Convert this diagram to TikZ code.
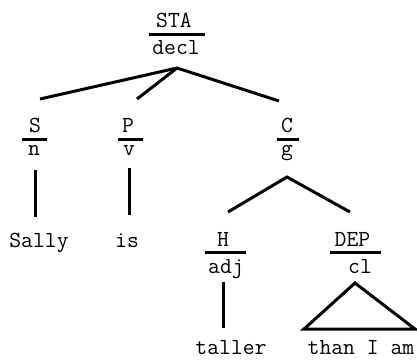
\documentclass[tikz,border=0pt]{standalone}
\begin{document}
\begin{tikzpicture}[x=1pt,y=-1pt,
  lbl/.style={anchor=base,inner sep=0pt,font=\ttfamily\fontsize{23}{26}\selectfont},
  bar/.style={fill=black,inner sep=0pt,minimum height=3pt},
  branch/.style={line width=3pt}]
\useasboundingbox (0,0) rectangle (417,359);

% root: STA / decl
\node[lbl] (sta) at (174,27) {STA};
\node[bar,minimum width=56pt] (stabar) at (176.5,34) {};
\node[lbl] (decl) at (176,54) {decl};
\coordinate (rootj) at (177,68);

% S / n
\node[lbl] (s) at (35,132) {S};
\node[bar,minimum width=25pt] (sbar) at (34.5,139) {};
\node[lbl] (n) at (34,155) {n};
\coordinate (stop) at (40,99);
\coordinate (nbot) at (35,170);
\coordinate (sallytop) at (35,217);
\node[lbl] (sally) at (39,247) {Sally};

% P / v
\node[lbl] (p) at (128,132) {P};
\node[bar,minimum width=25pt] (pbar) at (130.5,139) {};
\node[lbl] (v) at (129,155) {v};
\coordinate (ptop) at (137,99);
\coordinate (vbot) at (129,168);
\coordinate (istop) at (129,215);
\node[lbl] (is) at (127,247) {is};

% C / g
\node[lbl] (c) at (287,132) {C};
\node[bar,minimum width=22pt] (cbar) at (288,139) {};
\node[lbl] (g) at (287,155) {g};
\coordinate (ctop) at (279,101);
\coordinate (cj) at (287,177);

% H / adj
\node[lbl] (h) at (223,246) {H};
\node[bar,minimum width=41pt] (hbar) at (225.5,252) {};
\node[lbl] (adj) at (226,273) {adj};
\coordinate (htop) at (228,212);
\coordinate (adjbot) at (223,282);
\coordinate (tallertop) at (223,328);
\node[lbl] (taller) at (231,354) {taller};

% DEP / cl
\node[lbl] (dep) at (352.5,246) {DEP};
\node[bar,minimum width=51pt] (depbar) at (355.5,252) {};
\node[lbl] (cl) at (360,273) {cl};
\coordinate (deptop) at (350,212);
\coordinate (tapex) at (355,283);
\coordinate (tleft) at (304,329);
\coordinate (tright) at (415,329);
\node[lbl] (than) at (361,354) {than I am};

% branches
\draw[branch] (stop) -- (rootj) -- (ctop);
\draw[branch] (rootj) -- (ptop);
\draw[branch] (nbot) -- (sallytop);
\draw[branch] (vbot) -- (istop);
\draw[branch] (htop) -- (cj) -- (deptop);
\draw[branch] (adjbot) -- (tallertop);
\draw[branch,line join=miter] (tapex) -- (tleft) -- (tright) -- cycle;
\end{tikzpicture}
\end{document}
